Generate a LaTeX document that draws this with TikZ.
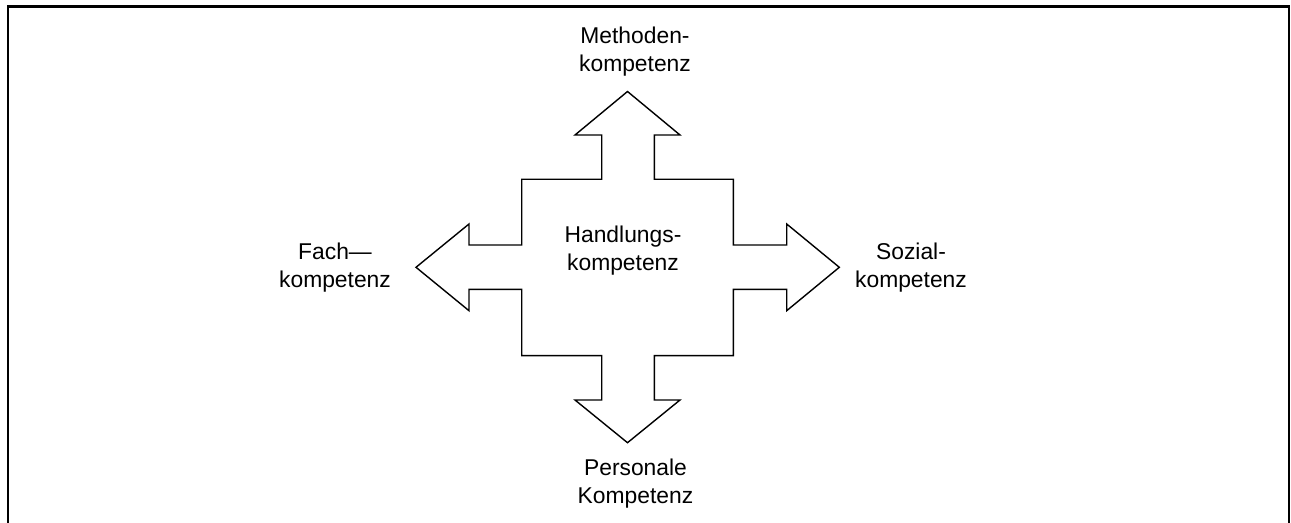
\documentclass[tikz,border=0pt]{standalone}
\usepackage{fontspec}
\setmainfont{Liberation Sans}
\usetikzlibrary{positioning}

\begin{document}
\begin{tikzpicture}[x=0.02cm, y=-0.02cm,
    komp/.style={align=center, inner sep=0pt, font=\fontsize{13}{16}\selectfont},
    kreuz/.style={draw=black, line width=0.8pt, line join=miter}]
  \useasboundingbox (0,0) rectangle (1291,523);
  % Rahmen
  \draw[line width=1.2pt] (8,540) -- (8,6.5) -- (1289,6.5) -- (1289,540);
  % Kreuz mit vier Pfeilen
  \draw[kreuz]
    (627.5,91.5) -- (680,135) -- (654.3,135) -- (654.3,179.3) -- (733.3,179.3)
    -- (733.3,245) -- (786.7,245) -- (786.7,224) -- (839.3,267.3)
    -- (786.7,310.7) -- (786.7,289.3) -- (733.3,289.3) -- (733.3,355.7)
    -- (654.3,355.7) -- (654.3,400) -- (680,400) -- (627.5,442.7)
    -- (575,400) -- (601.7,400) -- (601.7,355.7) -- (521.7,355.7)
    -- (521.7,289.3) -- (469,289.3) -- (469,310.7) -- (416,267.3)
    -- (469,224) -- (469,245) -- (521.7,245) -- (521.7,179.3)
    -- (601.7,179.3) -- (601.7,135) -- (575,135) -- cycle;
  % Beschriftungen
  \node[komp] (handlung) at (623,251) {Handlungs-\\kompetenz};
  \node[komp] (methode) at (635,52) {Methoden-\\kompetenz};
  \node[komp] (person) at (635.5,484) {Personale\\Kompetenz};
  \node[komp] (fach) at (335,268) {Fach---\\kompetenz};
  \node[komp] (sozial) at (911,268) {Sozial-\\kompetenz};
\end{tikzpicture}
\end{document}
